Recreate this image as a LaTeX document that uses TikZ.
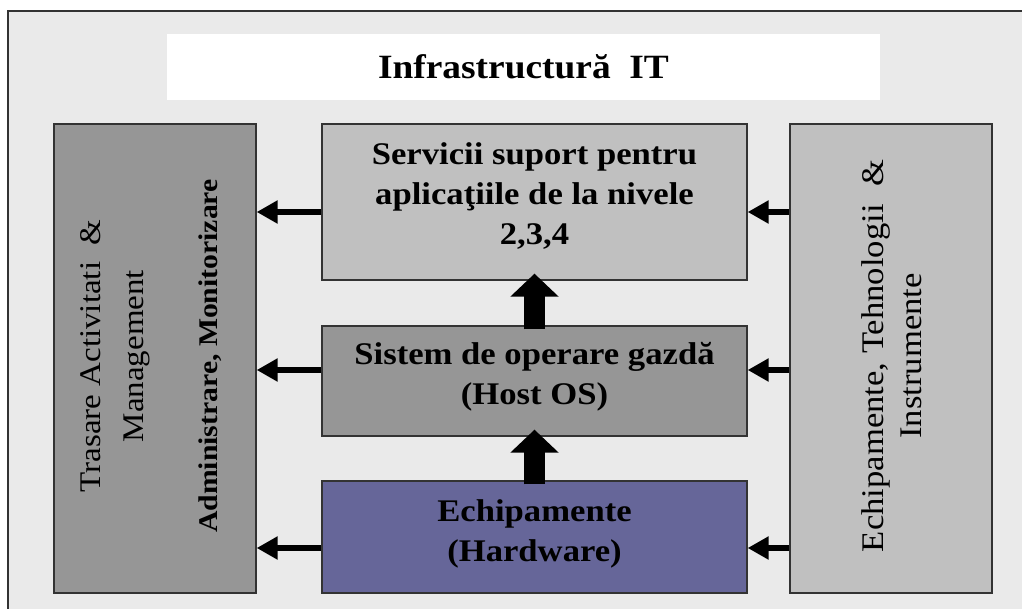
\documentclass[tikz,border=0pt]{standalone}
\usepackage{fontspec}
\setmainfont{Liberation Serif}[FakeStretch=1.1]
\usetikzlibrary{arrows.meta}
\definecolor{bgc}{HTML}{EAEAEA}
\definecolor{gdark}{HTML}{969696}
\definecolor{glight}{HTML}{C0C0C0}
\definecolor{purp}{HTML}{666699}
\definecolor{edgec}{HTML}{333333}
\begin{document}
\begin{tikzpicture}[x=1pt,y=-1pt,
  box/.style={draw=edgec, line width=1.3pt, inner sep=0pt, rectangle},
  ctext/.style={align=center, font=\bfseries\fontsize{31.5}{40}\selectfont, inner sep=0pt},
  stext/.style={align=center, rotate=90, inner sep=0pt},
  harrow/.style={line width=6.5pt, -{Triangle[width=22pt,length=21pt]}},
  varrow/.style={line width=21pt, -{Triangle[width=47pt,length=23pt]}}]
\useasboundingbox (0,0) rectangle (1022,608);
\clip (0,0) rectangle (1022,608);
% outer frame
\draw[fill=bgc, draw=edgec, line width=1.5pt] (8,11) rectangle (1040,630);
% title
\node[fill=white, minimum width=713pt, minimum height=66pt, inner sep=0pt,
      font=\bfseries\fontsize{34}{40}\selectfont] (title) at (523.5,67) {Infrastructură\ \ IT};
% boxes
\node[box, fill=gdark, minimum width=202pt, minimum height=469pt] (mgmt) at (155,358.5) {};
\node[box, fill=glight, minimum width=425pt, minimum height=156pt] (svc) at (534.5,202) {};
\node[box, fill=gdark, minimum width=425pt, minimum height=110pt] (os) at (534.5,381) {};
\node[box, fill=purp, minimum width=425pt, minimum height=112pt] (hw) at (534.5,537) {};
\node[box, fill=glight, minimum width=202pt, minimum height=469pt] (tools) at (891,358.5) {};
% texts
\node[ctext] (svct) at (534.5,196) {Servicii suport pentru\\aplicaţiile de la nivele\\2,3,4};
\node[ctext] (ost) at (534.5,377) {Sistem de operare gazdă\\(Host OS)};
\node[ctext] (hwt) at (534.5,534) {Echipamente\\(Hardware)};
\node[stext, font=\fontsize{30}{43}\selectfont] (mgmtt) at (115.5,356) {Trasare Activitati\ \ \&\\Management};
\node[stext, font=\bfseries\fontsize{27}{32}\selectfont] (admt) at (210,356) {Administrare, Monitorizare};
\node[stext, font=\fontsize{31.5}{38}\selectfont] (toolst) at (892,356) {Echipamente, Tehnologii\ \ \&\\Instrumente};
% connectors
\coordinate (r1) at (0,212);
\coordinate (r2) at (0,370);
\coordinate (r3) at (0,548);
\draw[harrow] (svc.west |- r1) -- (mgmt.east |- r1);
\draw[harrow] (os.west |- r2) -- (mgmt.east |- r2);
\draw[harrow] (hw.west |- r3) -- (mgmt.east |- r3);
\draw[harrow] (tools.west |- r1) -- (svc.east |- r1);
\draw[harrow] (tools.west |- r2) -- (os.east |- r2);
\draw[harrow] (tools.west |- r3) -- (hw.east |- r3);
\draw[varrow] ([yshift=-4pt]os.north) -- ([yshift=7pt]svc.south);
\draw[varrow] ([yshift=-4pt]hw.north) -- ([yshift=7pt]os.south);
\end{tikzpicture}
\end{document}
